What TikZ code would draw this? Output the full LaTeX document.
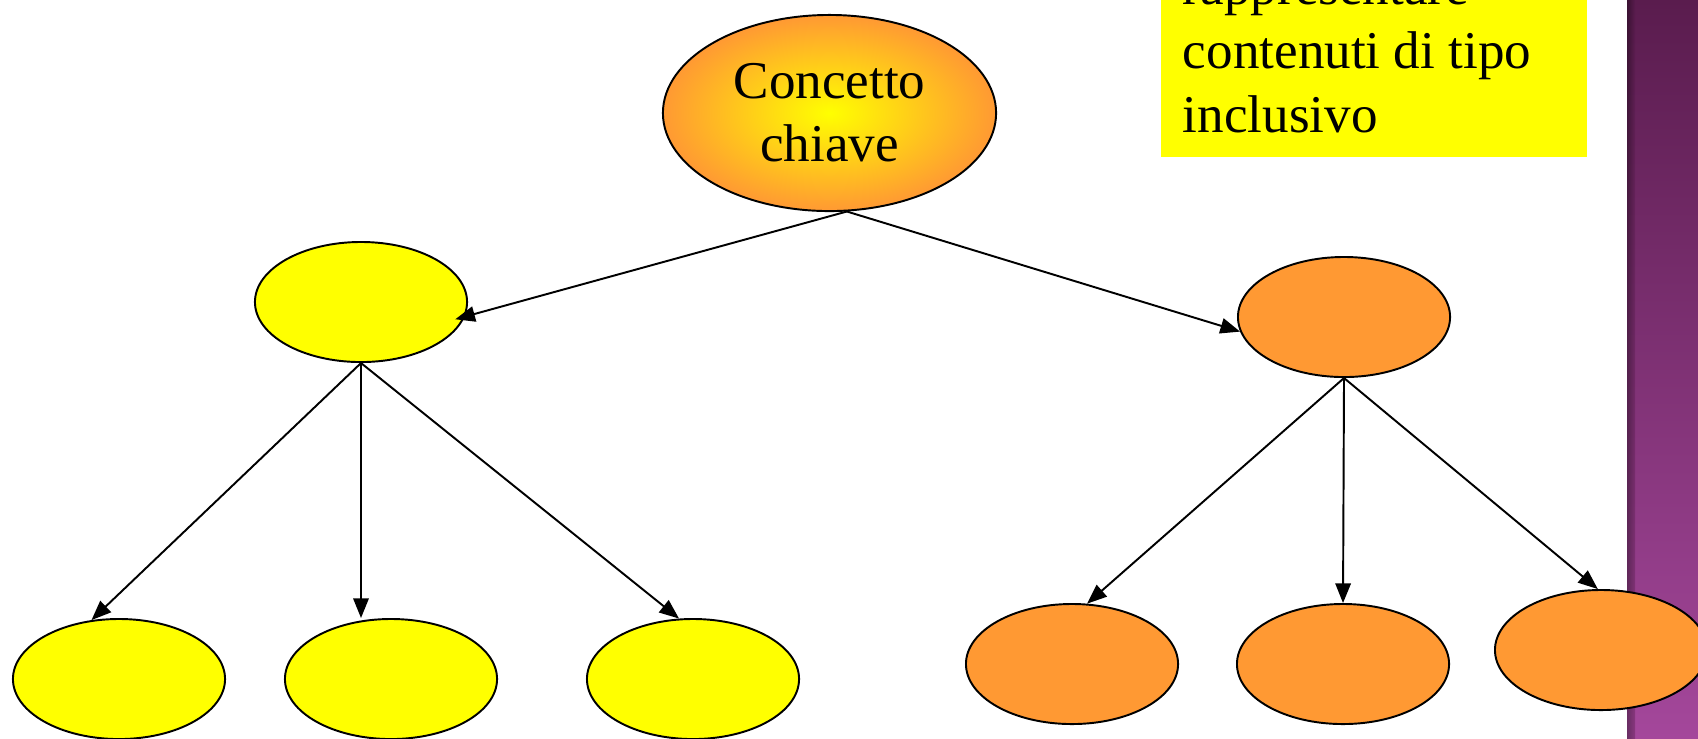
\documentclass[tikz,border=0pt]{standalone}
\usepackage{fontspec}
\setmainfont{Liberation Serif}
\usepackage{xcolor}
\usetikzlibrary{calc,shapes.geometric,arrows.meta}
\definecolor{ora}{HTML}{FF9933}
\definecolor{yel}{HTML}{FFFF00}
\definecolor{plumtop}{HTML}{5A1C4E}
\definecolor{plumbot}{HTML}{A4479B}

\begin{document}
\begin{tikzpicture}[x=0.01cm,y=-0.01cm]
            \tikzstyle{every node}=[draw,ellipse,line width=0.55pt,minimum width=2.12cm,minimum height=1.2cm,inner sep=0pt]
            \tikzstyle{yel}=[fill=yel]
            \tikzstyle{ora}=[fill=ora]
            \tikzstyle{arr}=[line width=0.55pt,-{Triangle[length=5.6pt,width=4.4pt]}]
            \clip (0,0) rectangle (1698,738);
            \fill[white] (0,0) rectangle (1698,738);
            % side band
            \shade[top color=plumtop,bottom color=plumbot] (1627,0) rectangle (1698,738);
            \shade[left color=black,right color=plumtop,opacity=0.35] (1627,0) rectangle (1635,738);
            % note
            \fill[yel] (1161,-30) rectangle (1587,157);
            \node[draw=none,rectangle,anchor=base west,align=left,font=\fontsize{15.1pt}{18.2pt}\selectfont] (txt) at (1182,132) {rappresentare\\contenuti di tipo\\inclusivo};
            % tree
            \node[inner color=yel,outer color=ora,minimum width=3.33cm,minimum height=1.96cm,align=center,font=\fontsize{15.1pt}{17.9pt}\selectfont] (0) at (829.5,113) {Concetto\\chiave};
            \node[yel] (1) at (361,302) {};
            \node[ora] (2) at (1344,317) {};
            \node[yel] (11) at (119,679) {};
            \node[yel] (12) at (391,679) {};
            \node[yel] (13) at (693,679) {};
            \node[ora] (21) at (1072,664) {};
            \node[ora] (22) at (1343,664) {};
            \node[ora] (23) at (1601,650) {};
            \draw[arr,shorten >=-0.1cm] (0.-80)--(1.-8);
            \draw[arr] (0.-80)--(2.188);
            \draw[arr] (1.south)--(11.115);
            \draw[arr] (1.south)--(1.south |- 12.north);
            \draw[arr] (1.south)--(13.103);
            \draw[arr] (2.south)--(21.76);
            \draw[arr] (2.south)--(22.north);
            \draw[arr] (2.south)--(23.93);
        \end{tikzpicture}
\end{document}
